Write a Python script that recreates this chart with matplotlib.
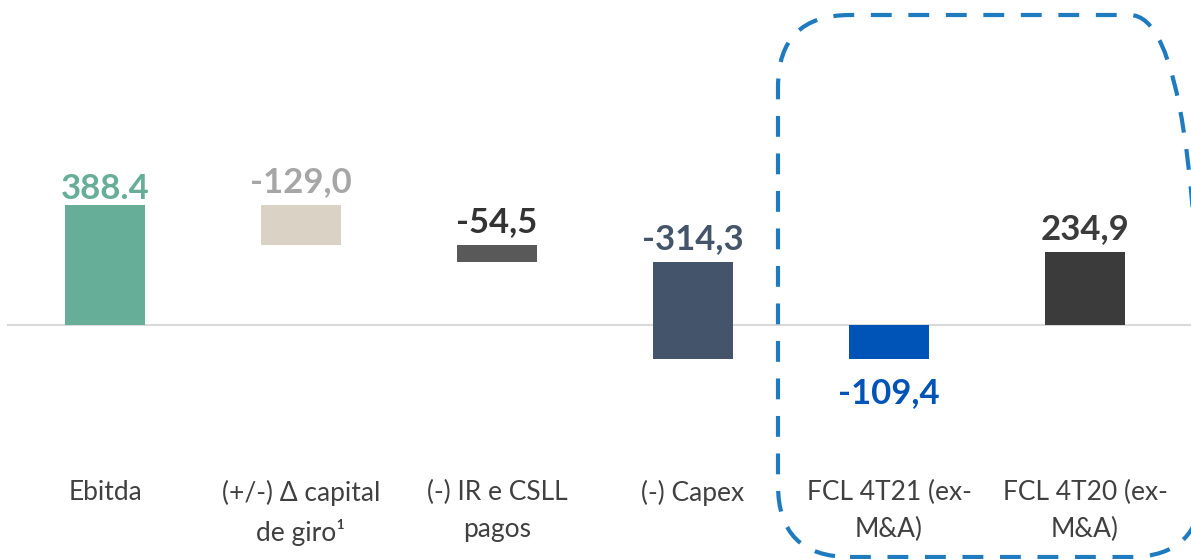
import matplotlib.pyplot as plt
from matplotlib.patches import FancyBboxPatch
from matplotlib.transforms import IdentityTransform

plt.rcParams['font.family'] = ['Lato', 'DejaVu Sans']

categories = ['Ebitda', '(+/-) Δ capital\nde giro¹', '(-) IR e CSLL\npagos', '(-) Capex',
              'FCL 4T21 (ex-\nM&A)', 'FCL 4T20 (ex-\nM&A)']
values = [388.4, -129.0, -54.5, -314.3, -109.4, 234.9]
labels = ['388.4', '-129,0', '-54,5', '-314,3', '-109,4', '234,9']
is_total = [False, False, False, False, True, True]
bar_colors = ['#67AE99', '#D9D2C5', '#595959', '#44546A', '#0054B8', '#3B3B3B']
text_colors = ['#67AE99', '#A6A6A6', '#333333', '#44546A', '#0054B8', '#3B3B3B']

fig = plt.figure(figsize=(11.91, 5.59), dpi=100)
ax = fig.add_axes([0, 0, 1, 1])
ax.set_xlim(-0.536, 5.541)
ax.set_ylim(-756.5, 1050.8)
ax.axis('off')

ax.axhline(0, xmin=8 / 1191, xmax=1, color='#D9D9D9', lw=1.5, zorder=1)

running = 0.0
for i, v in enumerate(values):
    height = abs(v)
    if is_total[i]:
        bottom = min(0.0, v)
    else:
        bottom = running if v >= 0 else running + v
        running += v
    ax.bar(i, height, bottom=bottom, width=0.408, color=bar_colors[i], zorder=2)
    top = bottom + height
    if is_total[i] and v < 0:
        ax.annotate(labels[i], (i, bottom), xytext=(0, -13), textcoords='offset points',
                    ha='center', va='top', fontsize=25, fontweight='bold', color=text_colors[i])
    else:
        off = 0 if i == 0 else 5
        ax.annotate(labels[i], (i, top), xytext=(0, off), textcoords='offset points',
                    ha='center', va='bottom', fontsize=25, fontweight='bold', color=text_colors[i],
                    zorder=3)
    ax.text(i, 0.141, categories[i], transform=ax.get_xaxis_transform(), ha='center', va='top',
            fontsize=19, color='#404040', linespacing=1.6, multialignment='center')

# dashed highlight box (pixels)
box = FancyBboxPatch((778, 2), 424, 542, boxstyle='round,pad=0,rounding_size=72',
                     transform=IdentityTransform(), fill=False, edgecolor='#1F7BBF',
                     lw=3, linestyle=(0, (5, 4)))
fig.patches.append(box)

fig.savefig('out.png', dpi=100)
